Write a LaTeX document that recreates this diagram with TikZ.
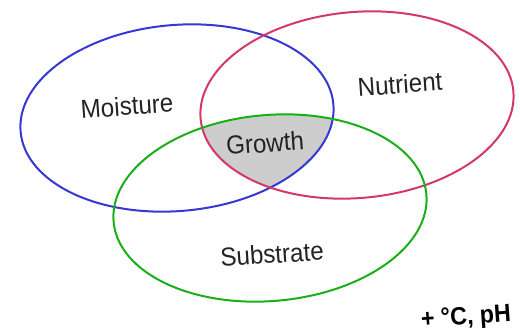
\documentclass[tikz,border=0pt]{standalone}
\usepackage{fontspec}
\setmainfont{Liberation Sans}
\definecolor{vblue}{RGB}{55,55,210}
\definecolor{vred}{RGB}{212,55,105}
\definecolor{vgreen}{RGB}{25,175,25}
\definecolor{vgray}{RGB}{205,205,205}
\definecolor{vtext}{RGB}{35,35,35}
\tikzset{
  ring/.style={line width=2pt},
  lbl/.style={text=vtext, font=\fontsize{26}{28}\selectfont, inner sep=0pt, rotate=4, xscale=0.93},
}
\begin{document}
\begin{tikzpicture}[x=1pt,y=-1pt]
\useasboundingbox (0,0) rectangle (520,332);
\coordinate (cb) at (177,118);
\coordinate (cr) at (357,105);
\coordinate (cg) at (270,208);
% intersection
\begin{scope}
  \clip[rotate around={5:(cb)}] (cb) ellipse [x radius=157pt, y radius=93pt];
  \clip[rotate around={5:(cr)}] (cr) ellipse [x radius=157pt, y radius=93pt];
  \fill[vgray, rotate around={5:(cg)}] (cg) ellipse [x radius=157pt, y radius=93pt];
\end{scope}
\draw[ring, vblue, rotate around={5:(cb)}] (cb) ellipse [x radius=157pt, y radius=93pt];
\draw[ring, vred, rotate around={5:(cr)}] (cr) ellipse [x radius=157pt, y radius=93pt];
\draw[ring, vgreen, rotate around={5:(cg)}] (cg) ellipse [x radius=157pt, y radius=93pt];
\node[lbl] (moist) at (127,106) {Moisture};
\node[lbl] (nutr) at (400,84) {Nutrient};
\node[lbl] (grow) at (265,143) {Growth};
\node[lbl] (subs) at (272,254) {Substrate};
\node[lbl, font=\fontsize{25}{27}\selectfont\bfseries, text=black] (temp) at (466,318) {+ °C, pH};
\end{tikzpicture}
\end{document}
